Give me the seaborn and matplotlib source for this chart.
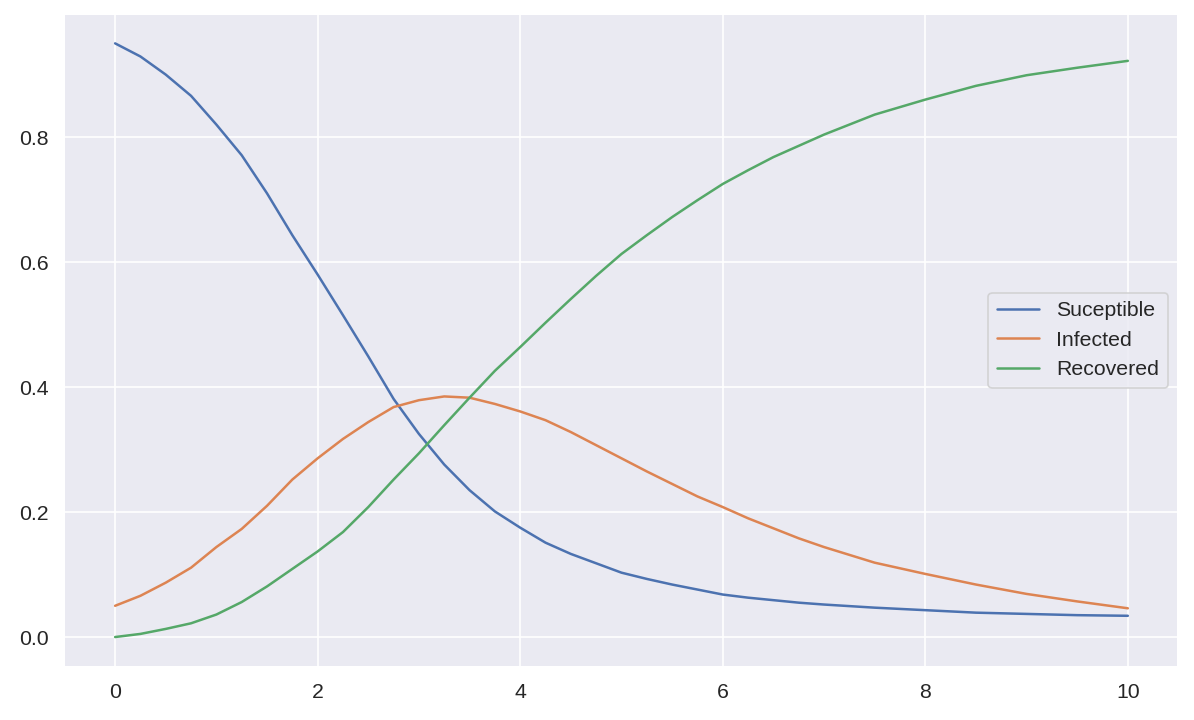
import matplotlib
matplotlib.use("Agg")
import matplotlib.pyplot as plt
import pandas as pd
import seaborn as sns

# values (SIR curves)
t = [0, 0.25, 0.5, 0.75, 1, 1.25, 1.5, 1.75, 2, 2.25, 2.5, 2.75, 3, 3.25, 3.5, 3.75, 4,
     4.25, 4.5, 4.75, 5, 5.25, 5.5, 5.75, 6, 6.25, 6.5, 6.75, 7, 7.5, 8, 8.5, 9, 9.5, 10]
susceptible = [0.95, 0.929, 0.90, 0.866, 0.82, 0.771, 0.71, 0.643, 0.58, 0.515, 0.449, 0.381,
               0.325, 0.276, 0.235, 0.201, 0.175, 0.151, 0.133, 0.118, 0.103, 0.093, 0.084,
               0.076, 0.068, 0.063, 0.059, 0.055, 0.052, 0.047, 0.043, 0.039, 0.037, 0.035, 0.034]
infected = [0.05, 0.066, 0.087, 0.111, 0.144, 0.173, 0.21, 0.252, 0.286, 0.317, 0.344, 0.368,
            0.379, 0.385, 0.383, 0.373, 0.361, 0.347, 0.328, 0.307, 0.286, 0.265, 0.245,
            0.225, 0.208, 0.19, 0.174, 0.158, 0.144, 0.119, 0.101, 0.084, 0.069, 0.057, 0.046]
recovered = [0.0, 0.005, 0.013, 0.022, 0.036, 0.056, 0.081, 0.109, 0.137, 0.168, 0.208, 0.252,
             0.294, 0.339, 0.383, 0.426, 0.464, 0.503, 0.541, 0.578, 0.613, 0.643, 0.672,
             0.699, 0.725, 0.747, 0.768, 0.786, 0.804, 0.836, 0.86, 0.882, 0.899, 0.911, 0.922]
labels = ["Suceptible", "Infected", "Recovered"]

sns.set_theme(style="darkgrid", font_scale=1.16)
plt.rcParams["font.family"] = ["Liberation Sans", "DejaVu Sans"]

df = pd.DataFrame({"t": t, labels[0]: susceptible, labels[1]: infected, labels[2]: recovered})

fig, ax = plt.subplots(figsize=(9.95, 6), dpi=120)
for name in labels:
    sns.lineplot(data=df, x="t", y=name, label=name, ax=ax)

ax.set_xlabel("")
ax.set_ylabel("")
ax.legend(loc="center right")
fig.subplots_adjust(left=0.054, right=0.987, top=0.981, bottom=0.074)
fig.savefig("out.png")
